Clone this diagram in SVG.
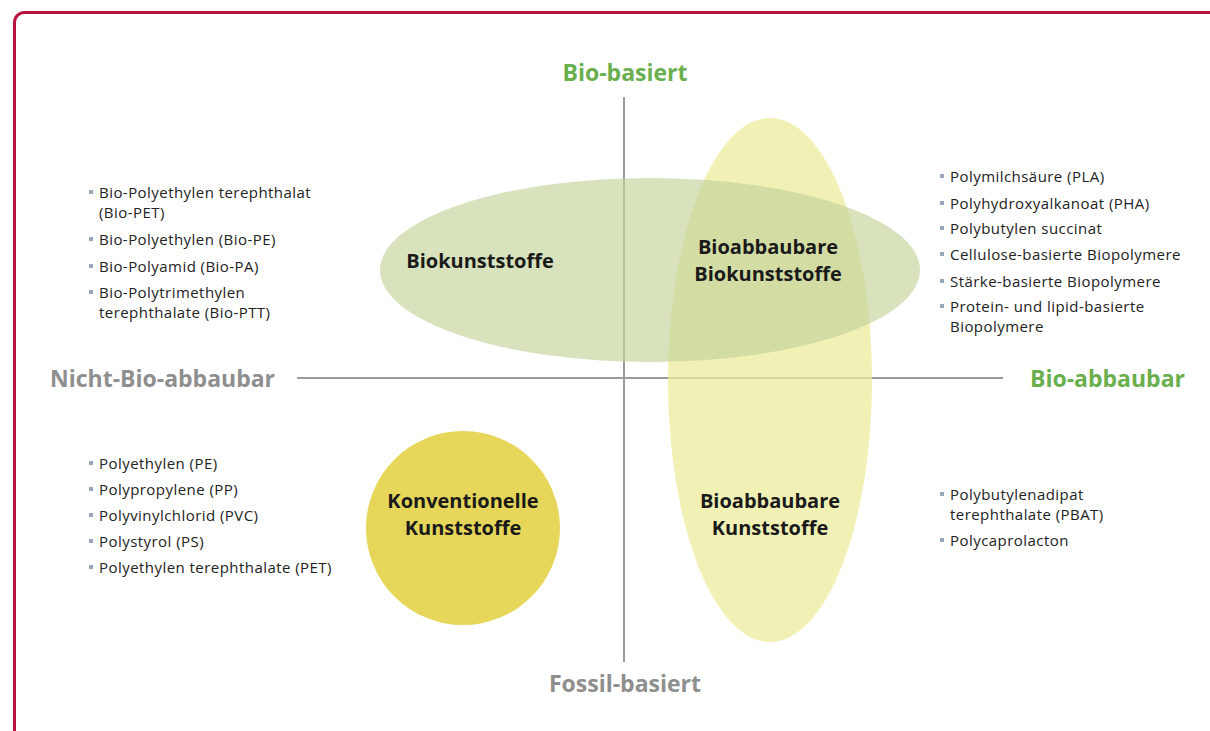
<svg xmlns="http://www.w3.org/2000/svg" width="1210" height="731" viewBox="0 0 1210 731">
<style>
.axis{font-family:"Open Sans",Lato,"Liberation Sans",sans-serif;font-weight:bold;font-size:23px}
.green{fill:#6aaf4e}
.gray{fill:#8e8e8e}
.node{font-family:"Open Sans",Lato,"Liberation Sans",sans-serif;font-weight:bold;font-size:20px;fill:#1a1a1a;text-anchor:middle}
.list{font-family:"Open Sans",Lato,"Liberation Sans",sans-serif;font-size:15px;letter-spacing:0.45px;fill:#222}
.bul{fill:#9aa6bd}
.line{stroke:#9a9a9a;stroke-width:2;fill:none}
</style>
<rect width="1210" height="731" fill="#ffffff"/>
<rect x="14.5" y="12.5" width="1260" height="800" rx="10" ry="10" fill="none" stroke="#b8143f" stroke-width="3"/>

<g id="axes">
<line class="line" x1="624" y1="97" x2="624" y2="662"/>
<line class="line" x1="297" y1="378" x2="1003" y2="378"/>
</g>

<g id="bioabbaubare-kunststoffe">
<ellipse cx="770" cy="380" rx="102" ry="262" fill="#ecec9c" fill-opacity="0.75"/>
</g>
<g id="biokunststoffe">
<ellipse cx="650" cy="270" rx="270" ry="92" fill="#c3d39a" fill-opacity="0.65"/>
</g>
<g id="konventionelle">
<circle cx="463" cy="528" r="97" fill="#e6d659"/>
</g>

<g id="labels">
<text class="axis green" x="625" y="81" text-anchor="middle">Bio-basiert</text>
<text class="axis gray" x="625" y="692" text-anchor="middle">Fossil-basiert</text>
<text class="axis gray" x="50" y="387">Nicht-Bio-abbaubar</text>
<text class="axis green" x="1030" y="387">Bio-abbaubar</text>
<text class="node" x="480" y="268">Biokunststoffe</text>
<text class="node" x="768" y="254">Bioabbaubare</text>
<text class="node" x="768" y="281">Biokunststoffe</text>
<text class="node" x="463" y="508">Konventionelle</text>
<text class="node" x="463" y="535">Kunststoffe</text>
<text class="node" x="770" y="508">Bioabbaubare</text>
<text class="node" x="770" y="535">Kunststoffe</text>
</g>

<g id="list-biokunststoffe">
<rect class="bul" x="89" y="190" width="4" height="4"/>
<rect class="bul" x="89" y="237" width="4" height="4"/>
<rect class="bul" x="89" y="264" width="4" height="4"/>
<rect class="bul" x="89" y="290" width="4" height="4"/>
<text class="list" x="99" y="198">Bio-Polyethylen terephthalat</text>
<text class="list" x="99" y="218">(Bio-PET)</text>
<text class="list" x="99" y="245">Bio-Polyethylen (Bio-PE)</text>
<text class="list" x="99" y="272">Bio-Polyamid (Bio-PA)</text>
<text class="list" x="99" y="298">Bio-Polytrimethylen</text>
<text class="list" x="99" y="318">terephthalate (Bio-PTT)</text>
</g>

<g id="list-bioabbaubare-bio">
<rect class="bul" x="940" y="174" width="4" height="4"/>
<rect class="bul" x="940" y="201" width="4" height="4"/>
<rect class="bul" x="940" y="226" width="4" height="4"/>
<rect class="bul" x="940" y="252" width="4" height="4"/>
<rect class="bul" x="940" y="279" width="4" height="4"/>
<rect class="bul" x="940" y="304" width="4" height="4"/>
<text class="list" x="950" y="182">Polymilchsäure (PLA)</text>
<text class="list" x="950" y="209">Polyhydroxyalkanoat (PHA)</text>
<text class="list" x="950" y="234">Polybutylen succinat</text>
<text class="list" x="950" y="260">Cellulose-basierte Biopolymere</text>
<text class="list" x="950" y="287">Stärke-basierte Biopolymere</text>
<text class="list" x="950" y="312">Protein- und lipid-basierte</text>
<text class="list" x="950" y="332">Biopolymere</text>
</g>

<g id="list-konventionelle">
<rect class="bul" x="89" y="461" width="4" height="4"/>
<rect class="bul" x="89" y="487" width="4" height="4"/>
<rect class="bul" x="89" y="513" width="4" height="4"/>
<rect class="bul" x="89" y="539" width="4" height="4"/>
<rect class="bul" x="89" y="565" width="4" height="4"/>
<text class="list" x="99" y="469">Polyethylen (PE)</text>
<text class="list" x="99" y="495">Polypropylene (PP)</text>
<text class="list" x="99" y="521">Polyvinylchlorid (PVC)</text>
<text class="list" x="99" y="547">Polystyrol (PS)</text>
<text class="list" x="99" y="573">Polyethylen terephthalate (PET)</text>
</g>

<g id="list-bioabbaubare-fossil">
<rect class="bul" x="940" y="492" width="4" height="4"/>
<rect class="bul" x="940" y="538" width="4" height="4"/>
<text class="list" x="950" y="500">Polybutylenadipat</text>
<text class="list" x="950" y="520">terephthalate (PBAT)</text>
<text class="list" x="950" y="546">Polycaprolacton</text>
</g>
</svg>
